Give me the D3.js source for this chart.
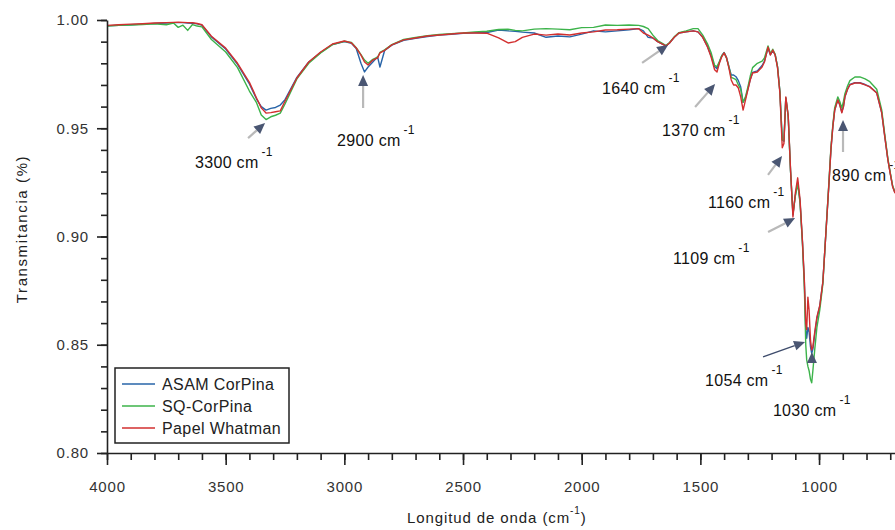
<!DOCTYPE html>
<html>
<head>
<meta charset="utf-8">
<script src="https://cdn.jsdelivr.net/npm/d3@7"></script>
<style>
  body { margin: 0; background: #fff; }
  text { font-family: "Liberation Sans", Arial, sans-serif; }
</style>
</head>
<body>
<svg width="895" height="530"></svg>
<script>
// wavenumbers (cm-1)
const wavenumbers = [
  4000,3950,3900,3850,3800,3750,3720,3700,3680,3660,3640,3620,3600,
  3560,3500,3450,3400,3370,3350,3330,3310,3290,3270,3250,3200,
  3150,3100,3050,3000,2970,2950,2930,2915,2900,2880,2860,2850,
  2830,2800,2750,2700,2650,2600,2550,2500,2450,2400,
  2350,2310,2280,2250,2200,2150,2100,2050,2000,1950,
  1900,1850,1800,1760,1740,1720,1700,1680,1660,1645,1630,
  1610,1590,1560,1530,1510,1490,1470,1455,1440,1430,1420,
  1410,1400,1390,1380,1370,1360,1350,1340,1330,1320,1310,
  1300,1290,1280,1260,1240,1230,1215,1205,1195,1185,
  1175,1165,1155,1148,1140,1130,1120,1110,1100,1090,1080,
  1070,1062,1056,1052,1047,1042,1036,1031,1026,1018,
  1009,997,984,976,967,958,950,942,934,921,
  913,904,897,891,880,870,849,828,806,786,757,736,723,710,700,690,680
];

const asamCorPina = [
  .9973,.9976,.9978,.9981,.9984,.9986,.9988,.9988,.9988,.9986,.9985,.9982,.9976,
  .9922,.9866,.9795,.9705,.9635,.9600,.9584,.9592,.9596,.9607,.9632,.9735,
  .9806,.9850,.9887,.9900,.9892,.9868,.9800,.9760,.9783,.9806,.9830,.9783,
  .9860,.9884,.9906,.9915,.9924,.9930,.9934,.9938,.9941,.9942,
  .9954,.9950,.9948,.9944,.9940,.9920,.9926,.9922,.9935,.9950,
  .9945,.9950,.9955,.9960,.9950,.9920,.9917,.9900,.9889,.9880,.9894,
  .9920,.9940,.9945,.9950,.9945,.9920,.9878,.9835,.9785,.9775,.9805,
  .9835,.9850,.9828,.9785,.9746,.9746,.9738,.9720,.9690,.9620,.9640,
  .9680,.9725,.9758,.9765,.9790,.9810,.9870,.9840,.9858,.9840,
  .9785,.9670,.9446,.9440,.9640,.9555,.9300,.9100,.9190,.9250,.9160,
  .8975,.8790,.8570,.8530,.8580,.8560,.8490,.8460,.8480,.8550,
  .8620,.8680,.8790,.8930,.9090,.9250,.9400,.9506,.9584,.9631,
  .9610,.9575,.9602,.9645,.9680,.9702,.9710,.9710,.9702,.9692,.9664,.9572,.9462,.9355,.9292,.9232,.9202
];

const sqCorPina = [
  .9972,.9975,.9977,.9979,.9982,.9978,.9986,.9966,.9976,.9952,.9979,.9972,.9968,
  .9910,.9852,.9780,.9672,.9618,.9561,.9540,.9553,.9560,.9570,.9612,.9728,
  .9800,.9848,.9886,.9902,.9896,.9872,.9840,.9815,.9800,.9818,.9828,.9850,
  .9862,.9886,.9910,.9920,.9928,.9933,.9937,.9940,.9945,.9948,
  .9956,.9957,.9952,.9950,.9958,.9960,.9958,.9955,.9965,.9966,
  .9977,.9975,.9977,.9975,.9970,.9960,.9930,.9905,.9892,.9882,.9896,
  .9922,.9942,.9950,.9960,.9960,.9930,.9890,.9850,.9790,.9785,.9808,
  .9835,.9848,.9825,.9785,.9735,.9730,.9725,.9700,.9680,.9620,.9645,
  .9690,.9740,.9780,.9800,.9810,.9825,.9880,.9845,.9865,.9842,
  .9785,.9670,.9446,.9445,.9640,.9555,.9300,.9105,.9185,.9245,.9155,
  .8970,.8770,.8500,.8430,.8400,.8380,.8340,.8324,.8380,.8480,
  .8580,.8660,.8780,.8930,.9095,.9258,.9410,.9515,.9595,.9645,
  .9625,.9594,.9625,.9660,.9695,.9720,.9737,.9737,.9728,.9715,.9680,.9585,.9470,.9360,.9295,.9235,.9205
];

const papelWhatman = [
  .9975,.9978,.9981,.9983,.9986,.9988,.9989,.9990,.9989,.9988,.9987,.9984,.9978,
  .9925,.9870,.9800,.9712,.9640,.9594,.9570,.9572,.9576,.9580,.9625,.9732,
  .9806,.9852,.9889,.9903,.9894,.9871,.9838,.9806,.9792,.9815,.9825,.9848,
  .9860,.9885,.9908,.9917,.9926,.9931,.9935,.9940,.9940,.9939,
  .9917,.9894,.9900,.9920,.9935,.9930,.9935,.9931,.9940,.9945,
  .9954,.9955,.9958,.9960,.9940,.9930,.9917,.9900,.9889,.9880,.9894,
  .9920,.9940,.9945,.9950,.9945,.9920,.9875,.9830,.9770,.9760,.9800,
  .9830,.9848,.9825,.9780,.9723,.9700,.9700,.9686,.9645,.9584,.9630,
  .9677,.9723,.9755,.9760,.9783,.9806,.9875,.9838,.9861,.9838,
  .9780,.9663,.9410,.9430,.9645,.9560,.9307,.9090,.9200,.9271,.9170,
  .8980,.8800,.8600,.8570,.8720,.8660,.8520,.8476,.8490,.8560,
  .8629,.8680,.8790,.8930,.9090,.9250,.9400,.9506,.9584,.9631,
  .9608,.9571,.9600,.9645,.9680,.9700,.9709,.9709,.9700,.9691,.9663,.9571,.9460,.9354,.9290,.9230,.9200
];

const seriesNames = ["ASAM CorPina", "SQ-CorPina", "Papel Whatman"];
const seriesColors = ["#2764a8", "#3cb34a", "#d22f2f"];

const xTicks = [4000, 3500, 3000, 2500, 2000, 1500, 1000];
const yTicks = [0.80, 0.85, 0.90, 0.95, 1.00];

// peak annotations: label, arrow tip (wavenumber, transmittance)
const peakLabels = ["3300", "2900", "1640", "1370", "1160", "1109", "1054", "1030", "890"];
const peakTips = [[3334, .9524], [2921, .9746], [1636, .9885], [1438, .9704], [1156, .9372],
                  [1101, .9085], [1059, .8513], [1030, .8467], [899, .9538]];

const svg = d3.select("svg");
const width = +svg.attr("width");
const height = +svg.attr("height");

const margin = { left: 107, right: 0, top: 20, bottom: 77 };

const x = d3.scaleLinear()
    .domain([4000, 680])
    .range([margin.left, width - margin.right]);

const y = d3.scaleLinear()
    .domain([0.80, 1.00])
    .range([height - margin.bottom, margin.top]);

svg.append("clipPath").attr("id", "plot-clip")
  .append("rect")
    .attr("x", margin.left)
    .attr("y", 0)
    .attr("width", width - margin.left)
    .attr("height", height - margin.bottom);

// spectra (blue, green, then red on top)
const allSeries = [asamCorPina, sqCorPina, papelWhatman];
const line = d3.line()
    .x((d, i) => x(wavenumbers[i]))
    .y(d => y(d));

svg.append("g")
    .attr("clip-path", "url(#plot-clip)")
  .selectAll("path")
  .data(allSeries)
  .join("path")
    .attr("fill", "none")
    .attr("stroke", (d, i) => seriesColors[i])
    .attr("stroke-width", 1.4)
    .attr("stroke-linejoin", "round")
    .attr("d", line);

// axes
const axisColor = "#222";
const xBase = height - margin.bottom;

const xMinor = svg.append("g")
    .attr("transform", `translate(0,${xBase})`)
    .call(d3.axisBottom(x).tickValues(d3.range(4000, 680, -100)).tickSize(7).tickSizeOuter(0).tickFormat(""));
xMinor.select(".domain").remove();

const xAxis = svg.append("g")
    .attr("transform", `translate(0,${xBase})`)
    .call(d3.axisBottom(x).tickValues(xTicks).tickSize(12).tickSizeOuter(0).tickPadding(16).tickFormat(d3.format("d")));

const yMinor = svg.append("g")
    .attr("transform", `translate(${margin.left},0)`)
    .call(d3.axisLeft(y).tickValues(d3.range(0.80, 1.005, 0.01)).tickSize(6).tickSizeOuter(0).tickFormat(""));
yMinor.select(".domain").remove();

const yAxis = svg.append("g")
    .attr("transform", `translate(${margin.left},0)`)
    .call(d3.axisLeft(y).tickValues(yTicks).tickSize(10).tickSizeOuter(0).tickPadding(8).tickFormat(d3.format(".2f")));

svg.selectAll(".domain, .tick line")
    .attr("stroke", axisColor)
    .attr("stroke-width", 1.6);

svg.selectAll(".tick text")
    .attr("fill", "#333")
    .style("font-size", "15px")
    .style("letter-spacing", "0.8px");

// axis titles
const xTitle = svg.append("text")
    .attr("x", 407)
    .attr("y", 523)
    .style("font-size", "15px")
    .style("letter-spacing", "0.9px")
    .attr("fill", "#222");
xTitle.append("tspan").text("Longitud de onda (cm");
xTitle.append("tspan").attr("dy", -9).style("font-size", "10px").text("-1");
xTitle.append("tspan").attr("dy", 9).text(")");

svg.append("text")
    .attr("transform", "translate(27,229) rotate(-90)")
    .attr("text-anchor", "middle")
    .style("font-size", "15px")
    .style("letter-spacing", "1.6px")
    .attr("fill", "#222")
    .text("Transmitancia (%)");

// legend
const legend = svg.append("g").attr("transform", "translate(115,368)");
legend.append("rect")
    .attr("width", 174)
    .attr("height", 75)
    .attr("fill", "#fff")
    .attr("stroke", "#222")
    .attr("stroke-width", 1.5);

const legendRows = legend.selectAll("g.row")
  .data(seriesNames)
  .join("g")
    .attr("class", "row")
    .attr("transform", (d, i) => `translate(0,${16 + i * 22})`);

legendRows.append("line")
    .attr("x1", 7).attr("x2", 40)
    .attr("stroke", (d, i) => seriesColors[i])
    .attr("stroke-width", 1.6);

legendRows.append("text")
    .attr("x", 47)
    .attr("dy", "0.35em")
    .style("font-size", "16px")
    .style("letter-spacing", "0.4px")
    .attr("fill", "#222")
    .text(d => d);

// arrows + labels
const tailOffsets = [[-17, 15], [0, 33], [-26, 18], [-20, 23], [-14, 19], [-27, 14], [-42, 15], [0, 11], [0, 32]];
const textOffsets = [[-70, 45], [-26, 71], [-66, 49], [-53, 52], [-74, 52], [-122, 46], [-100, 44], [-39, 64], [-11, 61]];

const notes = svg.append("g");

peakLabels.forEach((lab, i) => {
  const tx = x(peakTips[i][0]);
  const ty = y(peakTips[i][1]);
  const sx = tx + tailOffsets[i][0];
  const sy = ty + tailOffsets[i][1];
  const len = Math.hypot(tx - sx, ty - sy);
  const ux = (tx - sx) / len, uy = (ty - sy) / len;
  const headLen = 11, headHalf = 5;
  const bx = tx - ux * headLen, by = ty - uy * headLen;
  const dark = lab === "1054";

  notes.append("line")
      .attr("x1", sx).attr("y1", sy)
      .attr("x2", bx).attr("y2", by)
      .attr("stroke", dark ? "#3e4c6c" : "#b9b9b9")
      .attr("stroke-width", dark ? 1.4 : 2.2);

  notes.append("path")
      .attr("d", `M${tx},${ty}L${bx - uy * headHalf},${by + ux * headHalf}L${bx + uy * headHalf},${by - ux * headHalf}Z`)
      .attr("fill", "#4a5672");

  const t = notes.append("text")
      .attr("x", tx + textOffsets[i][0])
      .attr("y", ty + textOffsets[i][1])
      .style("font-size", "16px")
      .style("letter-spacing", "0.3px")
      .attr("fill", "#111");
  t.append("tspan").text(lab + " cm");
  t.append("tspan").attr("dx", 3).attr("dy", -12).style("font-size", "12px").text("-1");
});
</script>
</body>
</html>
